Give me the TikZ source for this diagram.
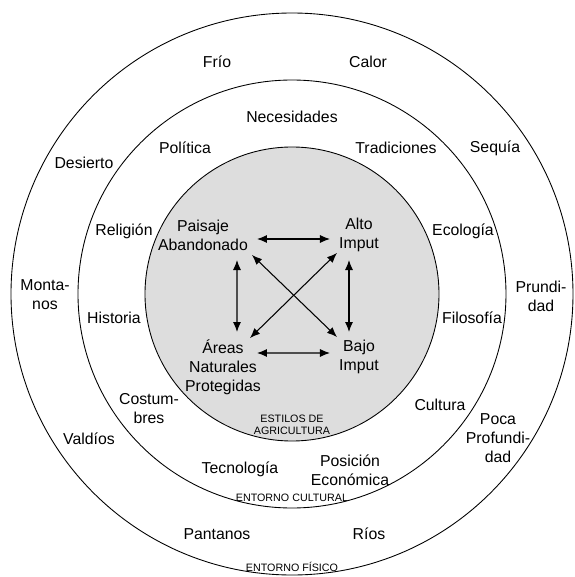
\documentclass[tikz,border=0pt]{standalone}
\usepackage{fontspec}
\setmainfont{Liberation Sans}
\usetikzlibrary{arrows.meta}

\begin{document}
\begin{tikzpicture}[
    ring/.style={draw, line width=0.5pt},
    lbl/.style={align=center, font=\fontsize{9}{10.8}\selectfont, inner sep=1pt},
    tag/.style={align=center, font=\fontsize{6.1}{7}\selectfont, inner sep=0pt},
    dbl/.style={{Latex[length=2mm,width=1.6mm]}-{Latex[length=2mm,width=1.6mm]}, line width=0.6pt}
]
    \useasboundingbox (-5.84,-5.66) rectangle (5.64,5.88);
    \draw [ring] (0,0) circle (5.62);
    \draw [ring] (0,0) circle (4.28);
    \draw [ring, fill=gray!27] (0,0) circle (2.94);

    % entorno fisico
    \node [lbl] (frio) at (-1.50,4.64) {Frío};
    \node [lbl] (calor) at (1.52,4.64) {Calor};
    \node [lbl] (desierto) at (-4.16,2.62) {Desierto};
    \node [lbl] (sequia) at (4.06,2.92) {Sequía};
    \node [lbl] (montanos) at (-4.94,-0.02) {Monta-\\nos};
    \node [lbl] (prundidad) at (4.98,-0.04) {Prundi-\\dad};
    \node [lbl] (valdios) at (-4.06,-2.90) {Valdíos};
    \node [lbl] (poca) at (4.12,-2.88) {Poca\\Profundi-\\dad};
    \node [lbl] (pantanos) at (-1.50,-4.80) {Pantanos};
    \node [lbl] (rios) at (1.54,-4.80) {Ríos};
    \node [tag] (fisico) at (0,-5.46) {ENTORNO FÍSICO};

    % entorno cultural
    \node [lbl] (necesidades) at (0,3.54) {Necesidades};
    \node [lbl] (politica) at (-2.14,2.92) {Política};
    \node [lbl] (tradiciones) at (2.08,2.92) {Tradiciones};
    \node [lbl] (religion) at (-3.36,1.26) {Religión};
    \node [lbl] (ecologia) at (3.42,1.26) {Ecología};
    \node [lbl] (historia) at (-3.56,-0.48) {Historia};
    \node [lbl] (filosofia) at (3.60,-0.48) {Filosofía};
    \node [lbl] (costumbres) at (-2.86,-2.30) {Costum-\\bres};
    \node [lbl] (cultura) at (2.96,-2.22) {Cultura};
    \node [lbl] (tecnologia) at (-1.04,-3.50) {Tecnología};
    \node [lbl] (posicion) at (1.16,-3.52) {Posición\\Económica};
    \node [tag] (cultural) at (0,-4.08) {ENTORNO CULTURAL};

    % estilos de agricultura
    \node [lbl] (pa) at (-1.78,1.18) {Paisaje\\Abandonado};
    \node [lbl] (ai) at (1.34,1.18) {Alto\\Imput};
    \node [lbl] (an) at (-1.38,-1.46) {Áreas\\Naturales\\Protegidas};
    \node [lbl] (bi) at (1.34,-1.26) {Bajo\\Imput};
    \node [tag] (estilos) at (0,-2.62) {ESTILOS DE\\AGRICULTURA};

    \draw [dbl] ([shift={(1.08,-0.08)}]pa.center) -- ([shift={(-0.58,-0.08)}]ai.center);
    \draw [dbl] ([shift={(0.68,0.28)}]an.center) -- ([shift={(-0.58,0.08)}]bi.center);
    \draw [dbl] ([shift={(0.68,-0.50)}]pa.center) -- ([shift={(0.28,0.70)}]an.center);
    \draw [dbl] ([shift={(-0.20,-0.50)}]ai.center) -- ([shift={(-0.20,0.50)}]bi.center);
    \draw [dbl] ([shift={(0.98,-0.40)}]pa.center) -- ([shift={(-0.44,0.40)}]bi.center);
    \draw [dbl] ([shift={(-0.44,-0.36)}]ai.center) -- ([shift={(0.54,0.58)}]an.center);
\end{tikzpicture}
\end{document}
